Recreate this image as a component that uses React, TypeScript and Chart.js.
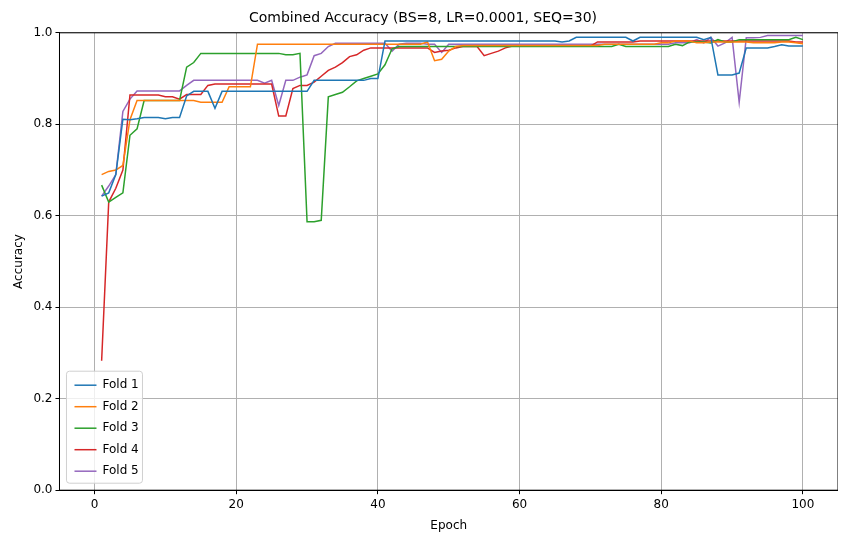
import { Chart, registerables } from 'chart.js';
import { useEffect, useRef } from 'react';

Chart.register(...registerables);

const epochs = Array.from({ length: 100 }, (_, i) => i + 1);

const fold1 = [
    0.643, 0.65, 0.69, 0.811, 0.81, 0.812, 0.815, 0.815, 0.815, 0.812,
    0.815, 0.815, 0.862, 0.872, 0.872, 0.872, 0.835, 0.872, 0.872, 0.872,
    0.872, 0.872, 0.872, 0.872, 0.872, 0.872, 0.872, 0.872, 0.872, 0.872,
    0.896, 0.896, 0.896, 0.896, 0.896, 0.896, 0.896, 0.896, 0.9, 0.9,
    0.982, 0.982, 0.982, 0.982, 0.982, 0.982, 0.982, 0.982, 0.982, 0.982,
    0.982, 0.982, 0.982, 0.982, 0.982, 0.982, 0.982, 0.982, 0.982, 0.982,
    0.982, 0.982, 0.982, 0.982, 0.982, 0.98, 0.982, 0.99, 0.99, 0.99,
    0.99, 0.99, 0.99, 0.99, 0.99, 0.982, 0.99, 0.99, 0.99, 0.99,
    0.99, 0.99, 0.99, 0.99, 0.99, 0.985, 0.99, 0.908, 0.908, 0.908,
    0.912, 0.967, 0.967, 0.967, 0.967, 0.97, 0.974, 0.971, 0.971, 0.971,
];
const fold2 = [
    0.69, 0.697, 0.7, 0.71, 0.81, 0.852, 0.852, 0.852, 0.852, 0.852,
    0.852, 0.852, 0.852, 0.852, 0.848, 0.848, 0.848, 0.848, 0.882, 0.882,
    0.882, 0.882, 0.975, 0.975, 0.975, 0.975, 0.975, 0.975, 0.975, 0.975,
    0.975, 0.975, 0.975, 0.975, 0.975, 0.975, 0.975, 0.975, 0.975, 0.975,
    0.975, 0.975, 0.975, 0.975, 0.975, 0.975, 0.98, 0.939, 0.942, 0.96,
    0.97, 0.972, 0.972, 0.972, 0.972, 0.972, 0.972, 0.972, 0.972, 0.972,
    0.972, 0.972, 0.972, 0.972, 0.972, 0.972, 0.972, 0.972, 0.972, 0.972,
    0.972, 0.975, 0.975, 0.975, 0.975, 0.975, 0.975, 0.975, 0.975, 0.978,
    0.978, 0.982, 0.982, 0.982, 0.978, 0.978, 0.98, 0.98, 0.98, 0.98,
    0.98, 0.98, 0.978, 0.978, 0.978, 0.978, 0.98, 0.98, 0.978, 0.976,
];
const fold3 = [
    0.667, 0.63, 0.64, 0.65, 0.776, 0.79, 0.852, 0.852, 0.852, 0.852,
    0.852, 0.852, 0.925, 0.935, 0.955, 0.955, 0.955, 0.955, 0.955, 0.955,
    0.955, 0.955, 0.955, 0.955, 0.955, 0.955, 0.952, 0.952, 0.955, 0.587,
    0.587, 0.59, 0.86, 0.865, 0.87, 0.882, 0.895, 0.9, 0.905, 0.91,
    0.93, 0.965, 0.97, 0.97, 0.97, 0.97, 0.97, 0.97, 0.97, 0.97,
    0.97, 0.97, 0.97, 0.97, 0.97, 0.97, 0.97, 0.97, 0.97, 0.97,
    0.97, 0.97, 0.97, 0.97, 0.97, 0.97, 0.97, 0.97, 0.97, 0.97,
    0.97, 0.97, 0.97, 0.975, 0.97, 0.97, 0.97, 0.97, 0.97, 0.97,
    0.97, 0.975, 0.972, 0.98, 0.98, 0.98, 0.978, 0.985, 0.98, 0.98,
    0.985, 0.985, 0.985, 0.985, 0.985, 0.985, 0.985, 0.985, 0.99, 0.985,
];
const fold4 = [
    0.283, 0.63, 0.66, 0.7, 0.864, 0.864, 0.864, 0.864, 0.864, 0.86,
    0.86, 0.855, 0.865, 0.865, 0.865, 0.885, 0.888, 0.888, 0.888, 0.888,
    0.888, 0.888, 0.888, 0.888, 0.888, 0.818, 0.818, 0.878, 0.885, 0.885,
    0.892, 0.905, 0.918, 0.925, 0.935, 0.948, 0.952, 0.962, 0.967, 0.967,
    0.967, 0.967, 0.967, 0.967, 0.967, 0.967, 0.967, 0.957, 0.96, 0.962,
    0.967, 0.97, 0.97, 0.97, 0.95, 0.955, 0.96, 0.967, 0.971, 0.971,
    0.971, 0.971, 0.971, 0.971, 0.971, 0.971, 0.971, 0.971, 0.971, 0.971,
    0.98, 0.98, 0.98, 0.98, 0.98, 0.98, 0.982, 0.982, 0.982, 0.982,
    0.982, 0.982, 0.982, 0.982, 0.982, 0.982, 0.982, 0.982, 0.982, 0.982,
    0.982, 0.982, 0.982, 0.982, 0.982, 0.982, 0.982, 0.982, 0.98, 0.98,
];
const fold5 = [
    0.643, 0.665, 0.69, 0.828, 0.855, 0.873, 0.873, 0.873, 0.873, 0.873,
    0.873, 0.873, 0.885, 0.896, 0.896, 0.896, 0.896, 0.896, 0.896, 0.896,
    0.896, 0.896, 0.896, 0.89, 0.896, 0.841, 0.896, 0.896, 0.903, 0.908,
    0.95, 0.955, 0.97, 0.977, 0.977, 0.977, 0.977, 0.977, 0.977, 0.977,
    0.977, 0.96, 0.975, 0.977, 0.977, 0.977, 0.975, 0.975, 0.957, 0.975,
    0.975, 0.975, 0.975, 0.975, 0.975, 0.975, 0.975, 0.975, 0.975, 0.975,
    0.975, 0.975, 0.975, 0.975, 0.975, 0.975, 0.975, 0.975, 0.975, 0.975,
    0.975, 0.975, 0.975, 0.975, 0.975, 0.975, 0.975, 0.975, 0.975, 0.975,
    0.975, 0.978, 0.978, 0.978, 0.985, 0.978, 0.99, 0.971, 0.978, 0.99,
    0.848, 0.989, 0.989, 0.99, 0.994, 0.994, 0.994, 0.994, 0.994, 0.994,
];

const series = [
    { label: 'Fold 1', data: fold1, color: '#1f77b4' },
    { label: 'Fold 2', data: fold2, color: '#ff7f0e' },
    { label: 'Fold 3', data: fold3, color: '#2ca02c' },
    { label: 'Fold 4', data: fold4, color: '#d62728' },
    { label: 'Fold 5', data: fold5, color: '#9467bd' },
];

// frame round the plot area plus a matplotlib-style legend in the lower left
const framePlugin = {
    id: 'frame',
    afterDraw(chart: Chart) {
        const { ctx, chartArea: a } = chart;
        ctx.save();
        ctx.strokeStyle = '#000';
        ctx.lineWidth = 1;
        ctx.strokeRect(a.left, a.top, a.right - a.left, a.bottom - a.top);

        const bx = a.left + 7, bw = 76, bh = 112, by = a.bottom - 7 - bh;
        ctx.fillStyle = 'rgba(255,255,255,0.8)';
        ctx.strokeStyle = '#d0d0d0';
        ctx.beginPath();
        ctx.roundRect(bx, by, bw, bh, 3);
        ctx.fill();
        ctx.stroke();
        ctx.font = '12px "DejaVu Sans"';
        ctx.textBaseline = 'middle';
        chart.data.datasets.forEach((ds: any, i: number) => {
            const y = by + 14 + i * 21.5;
            ctx.strokeStyle = ds.borderColor;
            ctx.lineWidth = 1.5;
            ctx.beginPath();
            ctx.moveTo(bx + 8, y);
            ctx.lineTo(bx + 30, y);
            ctx.stroke();
            ctx.fillStyle = '#000';
            ctx.fillText(ds.label, bx + 36, y);
        });
        ctx.restore();
    },
};

export default function App() {
    const chartRef = useRef<HTMLCanvasElement>(null);

    useEffect(() => {
        if (!chartRef.current) return;
        const font = { family: 'DejaVu Sans', size: 12 };
        const chart = new Chart(chartRef.current, {
            type: 'line',
            data: {
                datasets: series.map((s) => ({
                    label: s.label,
                    data: s.data.map((v, i) => ({ x: epochs[i], y: v })),
                    borderColor: s.color,
                    backgroundColor: s.color,
                    borderWidth: 1.5,
                    pointRadius: 0,
                    tension: 0,
                })),
            },
            options: {
                animation: false,
                responsive: false,
                layout: { padding: { left: 0, right: 0, top: 0, bottom: 0 } },
                plugins: {
                    title: {
                        display: true,
                        text: 'Combined Accuracy (BS=8, LR=0.0001, SEQ=30)',
                        color: '#000',
                        font: { family: 'DejaVu Sans', size: 14, weight: 'normal' },
                        padding: { top: 2, bottom: 6 },
                    },
                    legend: { display: false },
                    tooltip: { enabled: false },
                },
                scales: {
                    x: {
                        type: 'linear',
                        min: -4.95,
                        max: 104.95,
                        afterBuildTicks: (axis: any) => {
                            axis.ticks = [0, 20, 40, 60, 80, 100].map((v) => ({ value: v }));
                        },
                        title: { display: true, text: 'Epoch', color: '#000', font },
                        ticks: { color: '#000', font },
                        grid: { color: '#b0b0b0', tickColor: '#000', tickLength: 4 },
                        border: { color: '#000' },
                    },
                    y: {
                        min: 0,
                        max: 1,
                        title: { display: true, text: 'Accuracy', color: '#000', font },
                        ticks: { stepSize: 0.2, color: '#000', font, callback: (v: any) => Number(v).toFixed(1) },
                        grid: { color: '#b0b0b0', tickColor: '#000', tickLength: 4 },
                        border: { color: '#000' },
                    },
                },
            },
            plugins: [framePlugin],
        });
        return () => chart.destroy();
    }, []);

    return <canvas ref={chartRef} width={830} height={529} />;
}
